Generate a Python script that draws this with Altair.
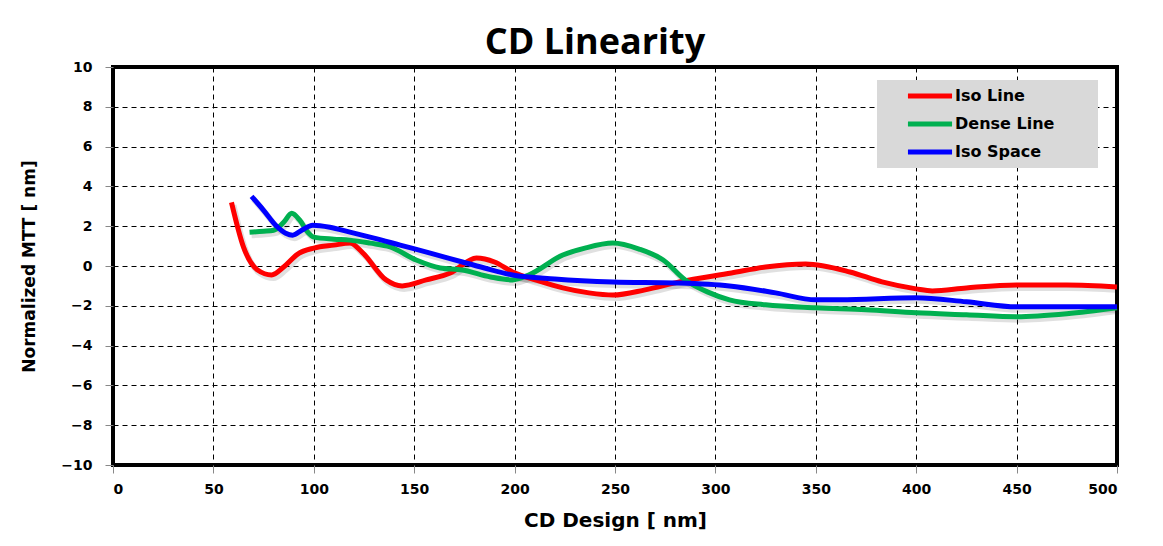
import altair as alt
import pandas as pd

# ---------------- data ----------------
series_names = ["Iso Line", "Dense Line", "Iso Space"]
series_colors = ["#ff0000", "#00b050", "#0000ff"]

iso_line_x = [59, 65, 72, 79, 85, 92, 100, 110, 118, 124, 136, 144, 156, 168, 181, 190, 199,
              212, 224, 237, 249, 265, 282, 308, 325, 345, 367, 383, 400, 408, 425, 450, 475, 500]
iso_line_y = [3.2, 0.95, -0.2, -0.45, -0.05, 0.6, 0.9, 1.05, 1.15, 0.7, -0.7, -1.0, -0.7, -0.35, 0.4, 0.2, -0.3,
              -0.75, -1.1, -1.35, -1.46, -1.2, -0.8, -0.35, -0.05, 0.1, -0.3, -0.8, -1.15, -1.25, -1.1, -0.95, -0.95, -1.05]

dense_line_x = [68, 75, 80, 85, 89, 93, 97, 100, 110, 118, 128, 138, 151, 163, 174, 188, 199, 207,
                224, 235, 249, 262, 274, 285, 296, 307, 325, 350, 375, 400, 425, 450, 475, 500]
dense_line_y = [1.7, 1.75, 1.8, 2.2, 2.65, 2.3, 1.7, 1.45, 1.35, 1.3, 1.15, 0.96, 0.3, -0.1, -0.2, -0.55, -0.7, -0.45,
                0.55, 0.9, 1.15, 0.85, 0.3, -0.7, -1.3, -1.7, -1.95, -2.1, -2.2, -2.35, -2.45, -2.55, -2.4, -2.1]

iso_space_x = [69, 75, 81.5, 86, 89.5, 94, 99.5, 108, 118, 130, 143, 158, 174, 185, 199, 220, 249,
               280, 307, 330, 350, 362, 400, 425, 450, 475, 500]
iso_space_y = [3.5, 2.8, 2.0, 1.65, 1.55, 1.8, 2.05, 1.95, 1.7, 1.4, 1.05, 0.65, 0.2, -0.1, -0.45, -0.65, -0.8,
               -0.85, -1.0, -1.35, -1.7, -1.7, -1.6, -1.8, -2.05, -2.05, -2.05]

x_ticks = [0, 50, 100, 150, 200, 250, 300, 350, 400, 450, 500]
y_ticks = [-10, -8, -6, -4, -2, 0, 2, 4, 6, 8, 10]

rows = []
for name, xs, ys in [("Iso Line", iso_line_x, iso_line_y),
                     ("Dense Line", dense_line_x, dense_line_y),
                     ("Iso Space", iso_space_x, iso_space_y)]:
    for xv, yv in zip(xs, ys):
        rows.append({"series": name, "cd": xv, "mtt": yv})
df = pd.DataFrame(rows)

x_enc = alt.X("cd:Q", scale=alt.Scale(domain=[0, 500], nice=False, zero=False),
              axis=alt.Axis(values=x_ticks, title="CD Design [ nm]", labelPadding=9,
                            titlePadding=14, titleFontSize=20))
y_enc = alt.Y("mtt:Q", scale=alt.Scale(domain=[-10, 10], nice=False),
              axis=alt.Axis(values=y_ticks, title="Normalized MTT [ nm]", labelPadding=13,
                            titlePadding=22, titleFontSize=17))

shadow = alt.Chart(df).mark_line(strokeWidth=6, interpolate="monotone", color="#000000",
                                 opacity=0.12, xOffset=2, yOffset=3).encode(
    x=x_enc, y=y_enc, detail="series:N")

# invisible (blank braille) characters widen the grey legend box on the right
lines = alt.Chart(df).mark_line(strokeWidth=5, interpolate="monotone").encode(
    x=x_enc,
    y=y_enc,
    color=alt.Color("series:N",
                    scale=alt.Scale(domain=series_names, range=series_colors),
                    sort=series_names,
                    legend=alt.Legend(title=None, orient="none", legendX=764, legendY=13,
                                      fillColor="#d9d9d9", padding=6,
                                      symbolType="M-3,0H3", symbolStrokeWidth=5, symbolSize=216,
                                      symbolOffset=37, labelOffset=15,
                                      labelExpr="datum.label + '\u2800\u2800\u2800'",
                                      labelFont="DejaVu Sans", labelFontWeight="bold",
                                      labelFontSize=16, labelColor="#000000",
                                      rowPadding=8)),
)

chart = alt.layer(shadow, lines).properties(
    width=1004,
    height=398,
    title=alt.TitleParams("CD Linearity", font="Open Sans", fontSize=36, fontWeight="bold",
                          color="#000000", anchor="middle", dx=-20, dy=12, offset=10),
    autosize=alt.AutoSizeParams(type="none"),
    padding={"left": 105, "top": 59, "right": 38, "bottom": 68},
    background="#ffffff",
).configure_view(
    stroke="#000000", strokeWidth=4
).configure_axis(
    labelFont="DejaVu Sans", labelFontWeight="bold", labelFontSize=14, labelColor="#000000",
    titleFont="DejaVu Sans", titleFontWeight="bold", titleColor="#000000",
    tickColor="#888888", tickSize=8, tickWidth=1,
    domain=False,
    grid=True, gridColor="#000000", gridDash=[5, 4], gridWidth=1, gridOpacity=1,
)

chart.save("out.html", embed_options={"renderer": "svg", "actions": False})
